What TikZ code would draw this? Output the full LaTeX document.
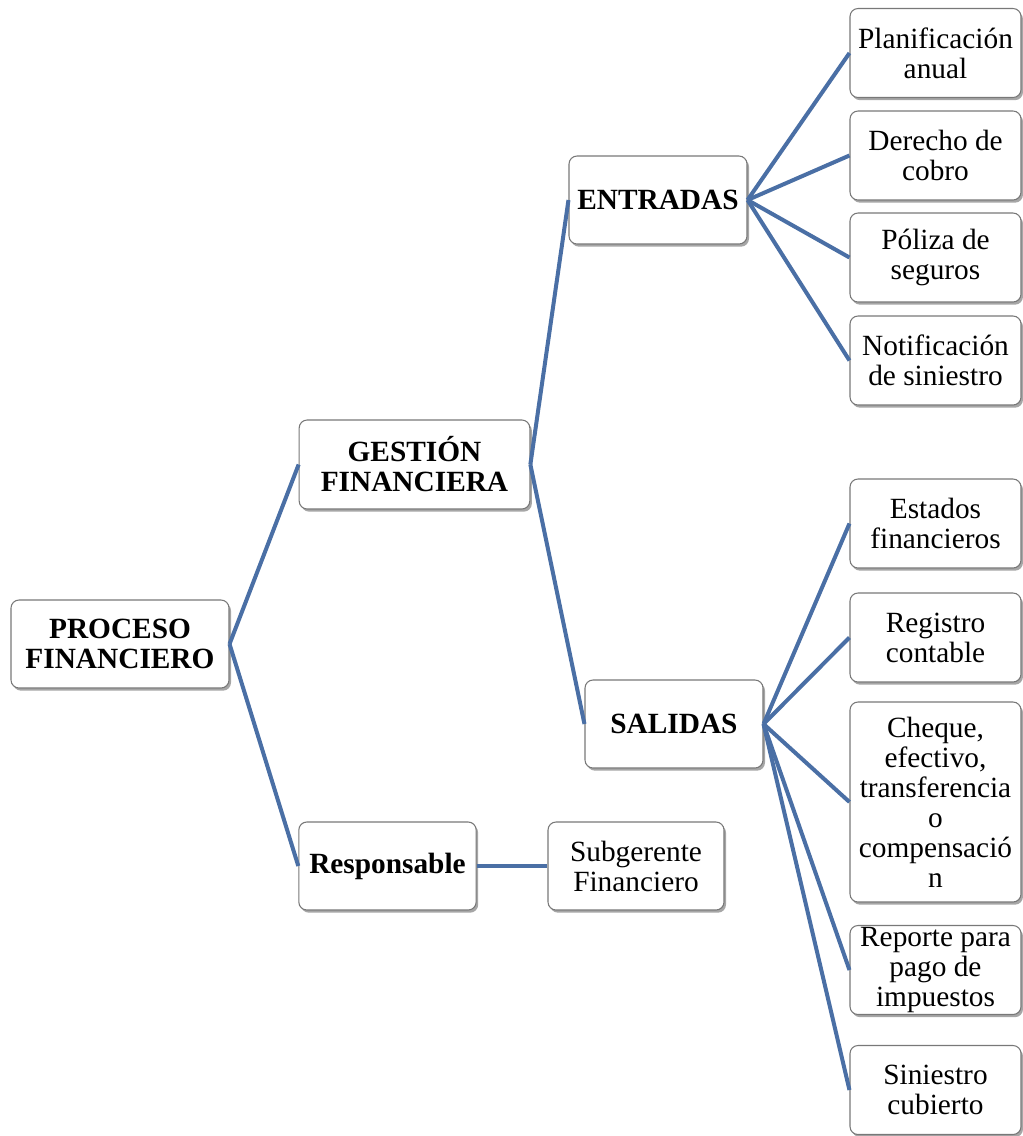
\documentclass[tikz,border=0pt]{standalone}
\usepackage{fontspec}
\setmainfont{Liberation Serif}
\usetikzlibrary{shadows}
\definecolor{linkblue}{RGB}{74,111,165}
\definecolor{boxgray}{RGB}{120,120,120}
\begin{document}
\begin{tikzpicture}[x=0.75pt,y=-0.75pt,
  box/.style={draw=boxgray, line width=0.8pt, rounded corners=6pt, fill=white,
    drop shadow={shadow xshift=1.5pt, shadow yshift=-2pt, fill=black, opacity=0.35},
    align=center, inner sep=0pt, font=\fontsize{22}{22.5}\selectfont},
  bbox/.style={box, font=\fontsize{22}{22.5}\selectfont\bfseries},
  rbox/.style={box, minimum width=128.25pt, minimum height=66.75pt},
  link/.style={draw=linkblue, line width=3pt}]
\useasboundingbox (0,0) rectangle (1022,1136);
% main nodes
\node[bbox, minimum width=163.5pt, minimum height=66pt] (proc) at (120,644) {PROCESO\\FINANCIERO};
\node[bbox, minimum width=173pt, minimum height=66.75pt] (gest) at (414.5,464.5) {GESTIÓN\\FINANCIERA};
\node[bbox, minimum width=133pt, minimum height=66pt] (resp) at (387.5,866) {Responsable};
\node[box, minimum width=132pt, minimum height=66pt] (subg) at (636,866) {Subgerente\\Financiero};
\node[bbox, minimum width=133.5pt, minimum height=66pt] (entr) at (658,200) {ENTRADAS};
\node[bbox, minimum width=133.5pt, minimum height=66pt] (sali) at (674,724) {SALIDAS};
% right column
\node[rbox] (e1) at (935.5,53) {Planificación\\anual};
\node[rbox] (e2) at (935.5,155.5) {Derecho de\\cobro};
\node[rbox] (e3) at (935.5,257.5) {Póliza de\\seguros};
\node[rbox] (e4) at (935.5,360.5) {Notificación\\de siniestro};
\node[rbox] (s1) at (935.5,523.5) {Estados\\financieros};
\node[rbox] (s2) at (935.5,637.5) {Registro\\contable};
\node[rbox, minimum height=150pt] (s3) at (935.5,802) {Cheque,\\efectivo,\\transferencia\\o\\compensació\\n};
\node[rbox] (s4) at (935.5,970) {Reporte para\\pago de\\impuestos};
\node[rbox] (s5) at (935.5,1090) {Siniestro\\cubierto};
% connectors
\begin{scope}[on background layer/.style={}]
\end{scope}
\draw[link] (proc.east) -- (gest.west);
\draw[link] (proc.east) -- (resp.west);
\draw[link] (resp.east) -- (subg.west);
\draw[link] (gest.east) -- (entr.west);
\draw[link] (gest.east) -- (sali.west);
\foreach \n in {e1,e2,e3,e4} \draw[link] (entr.east) -- (\n.west);
\foreach \n in {s1,s2,s3,s4,s5} \draw[link] (sali.east) -- (\n.west);
\end{tikzpicture}
\end{document}
